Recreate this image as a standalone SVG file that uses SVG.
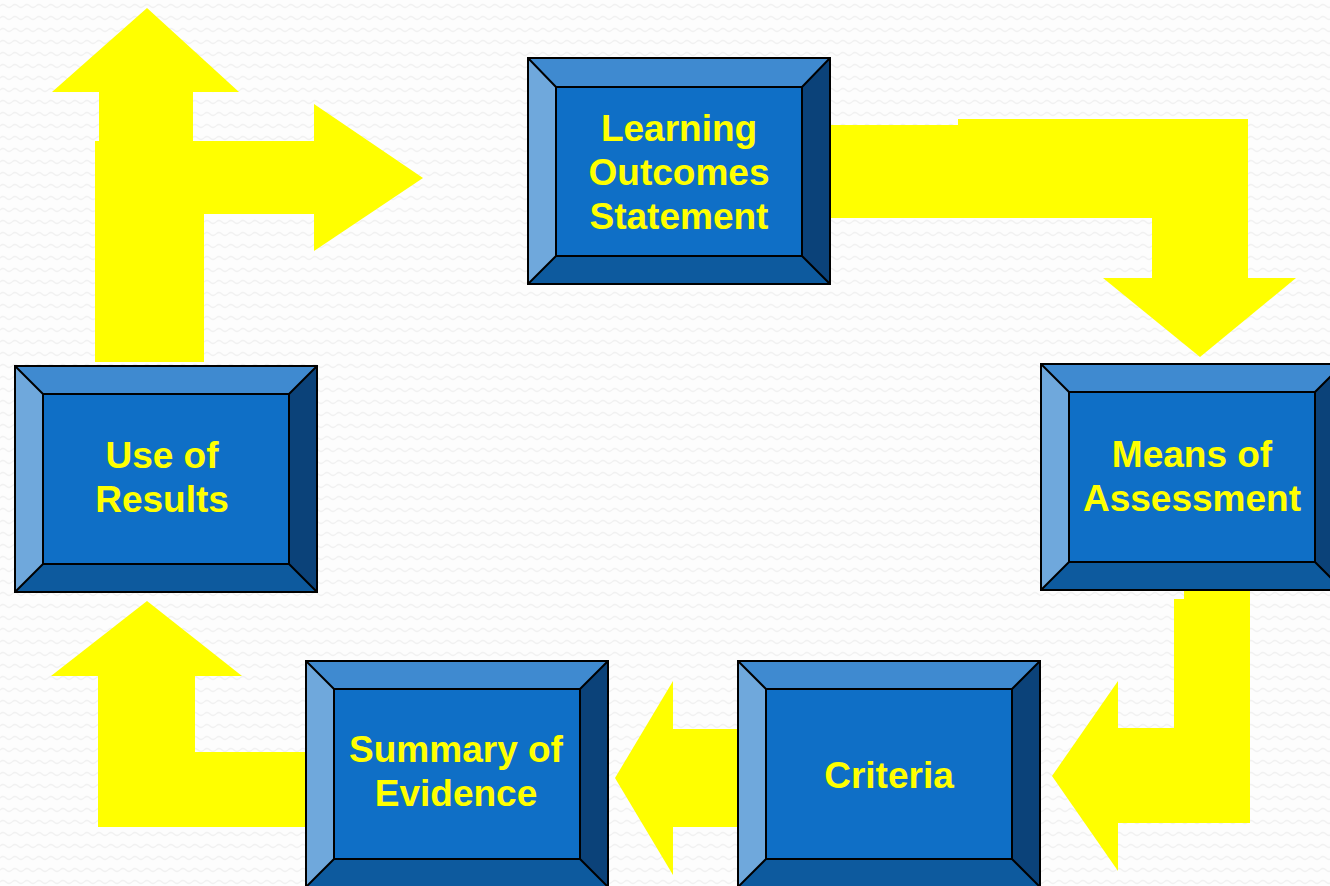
<svg xmlns="http://www.w3.org/2000/svg" width="1330" height="886" viewBox="0 0 1330 886">
<defs>
<pattern id="bg" width="12" height="12" patternUnits="userSpaceOnUse">
<rect width="12" height="12" fill="#fdfdfd"/>
<path d="M0 6 Q3 3 6 6 T12 6" fill="none" stroke="#f1f1f1" stroke-width="1.2"/>
</pattern>
<style>
.top{fill:#3f8ad0}
.lft{fill:#6fa8dc}
.rgt{fill:#0b4279}
.bot{fill:#0d5a9e}
.face{fill:#0f6fc6}
.edge{fill:none;stroke:#000;stroke-width:2;stroke-linejoin:miter}
.lbl{font-family:"Liberation Sans",Arial,sans-serif;font-weight:bold;font-size:37px;fill:#ffff00;text-anchor:middle}
.arr{fill:#ffff00}
</style>
</defs>
<rect width="1330" height="886" fill="url(#bg)"/>

<g id="connectors">
  <!-- Use of Results -> Learning Outcomes / up -->
  <g id="arrow-top-left" class="arr">
    <rect x="95" y="141" width="109" height="221"/>
    <rect x="99" y="90" width="94" height="60"/>
    <polygon points="52,92 147,8 239,92"/>
    <rect x="95" y="141" width="221" height="73"/>
    <polygon points="314,104 423,178 314,251"/>
  </g>
  <!-- Learning Outcomes -> Means of Assessment -->
  <g id="arrow-top-right" class="arr">
    <rect x="831" y="125" width="130" height="93"/>
    <rect x="958" y="119" width="290" height="99"/>
    <rect x="1152" y="119" width="96" height="161"/>
    <polygon points="1103,278 1296,278 1200,357"/>
  </g>
  <!-- Means of Assessment -> Criteria -->
  <g id="arrow-right" class="arr">
    <rect x="1184" y="590" width="66" height="12"/>
    <rect x="1174" y="599" width="76" height="224"/>
    <rect x="1116" y="728" width="134" height="95"/>
    <polygon points="1118,681 1052,776 1118,871"/>
  </g>
  <!-- Criteria -> Summary of Evidence -->
  <g id="arrow-bottom" class="arr">
    <rect x="671" y="729" width="67" height="98"/>
    <polygon points="673,681 615,778 673,875"/>
  </g>
  <!-- Summary of Evidence -> Use of Results -->
  <g id="arrow-bottom-left" class="arr">
    <rect x="98" y="674" width="97" height="153"/>
    <rect x="98" y="752" width="208" height="75"/>
    <polygon points="51,676 147,601 242,676"/>
  </g>
</g>

<g id="node-learning">
  <polygon class="top" points="528,58 830,58 802,87 556,87"/>
  <polygon class="lft" points="528,58 556,87 556,256 528,284"/>
  <polygon class="rgt" points="830,58 830,284 802,256 802,87"/>
  <polygon class="bot" points="528,284 556,256 802,256 830,284"/>
  <rect class="face" x="556" y="87" width="246" height="169"/>
  <path class="edge" d="M528,58H830V284H528Z M556,87H802V256H556Z M528,58L556,87 M830,58L802,87 M528,284L556,256 M830,284L802,256"/>
  <text class="lbl" x="679" y="141">Learning</text>
  <text class="lbl" x="679" y="185">Outcomes</text>
  <text class="lbl" x="679" y="229">Statement</text>
</g>

<g id="node-use">
  <polygon class="top" points="15,366 317,366 289,394 43,394"/>
  <polygon class="lft" points="15,366 43,394 43,564 15,592"/>
  <polygon class="rgt" points="317,366 317,592 289,564 289,394"/>
  <polygon class="bot" points="15,592 43,564 289,564 317,592"/>
  <rect class="face" x="43" y="394" width="246" height="170"/>
  <path class="edge" d="M15,366H317V592H15Z M43,394H289V564H43Z M15,366L43,394 M317,366L289,394 M15,592L43,564 M317,592L289,564"/>
  <text class="lbl" x="162" y="468">Use of</text>
  <text class="lbl" x="162" y="512">Results</text>
</g>

<g id="node-means">
  <polygon class="top" points="1041,364 1343,364 1315,392 1069,392"/>
  <polygon class="lft" points="1041,364 1069,392 1069,562 1041,590"/>
  <polygon class="rgt" points="1343,364 1343,590 1315,562 1315,392"/>
  <polygon class="bot" points="1041,590 1069,562 1315,562 1343,590"/>
  <rect class="face" x="1069" y="392" width="246" height="170"/>
  <path class="edge" d="M1041,364H1343V590H1041Z M1069,392H1315V562H1069Z M1041,364L1069,392 M1343,364L1315,392 M1041,590L1069,562 M1343,590L1315,562"/>
  <text class="lbl" x="1192" y="467">Means of</text>
  <text class="lbl" x="1192" y="511">Assessment</text>
</g>

<g id="node-summary">
  <polygon class="top" points="306,661 608,661 580,689 334,689"/>
  <polygon class="lft" points="306,661 334,689 334,859 306,887"/>
  <polygon class="rgt" points="608,661 608,887 580,859 580,689"/>
  <polygon class="bot" points="306,887 334,859 580,859 608,887"/>
  <rect class="face" x="334" y="689" width="246" height="170"/>
  <path class="edge" d="M306,661H608V887H306Z M334,689H580V859H334Z M306,661L334,689 M608,661L580,689 M306,887L334,859 M608,887L580,859"/>
  <text class="lbl" x="456" y="762">Summary of</text>
  <text class="lbl" x="456" y="806">Evidence</text>
</g>

<g id="node-criteria">
  <polygon class="top" points="738,661 1040,661 1012,689 766,689"/>
  <polygon class="lft" points="738,661 766,689 766,859 738,887"/>
  <polygon class="rgt" points="1040,661 1040,887 1012,859 1012,689"/>
  <polygon class="bot" points="738,887 766,859 1012,859 1040,887"/>
  <rect class="face" x="766" y="689" width="246" height="170"/>
  <path class="edge" d="M738,661H1040V887H738Z M766,689H1012V859H766Z M738,661L766,689 M1040,661L1012,689 M738,887L766,859 M1040,887L1012,859"/>
  <text class="lbl" x="889" y="788">Criteria</text>
</g>
</svg>
